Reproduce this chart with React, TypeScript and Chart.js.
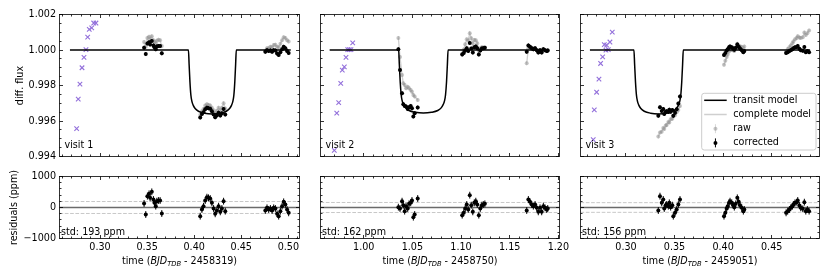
import React, { useEffect, useRef } from 'react';
import { Chart, registerables } from 'chart.js';

Chart.register(...registerables);

const FONT = 'DejaVu Sans';
const FS = 9.6;
const CW = 830;
const CH = 277;
Chart.defaults.font.family = FONT;
Chart.defaults.font.size = FS;
Chart.defaults.color = '#000';

// ---------------- data ----------------
const visitNames = ['visit 1', 'visit 2', 'visit 3'];
const bjdOffsets = ['2458319', '2458750', '2459051'];
const residualStd = [193, 162, 156];
const fluxTicks = [0.994, 0.996, 0.998, 1.0, 1.002];
const residTicks = [-1000, 0, 1000];
const xTicksVisit1 = [0.3, 0.35, 0.4, 0.45, 0.5];
const xTicksVisit2 = [1.0, 1.05, 1.1, 1.15, 1.2];
const xTicksVisit3 = [0.3, 0.35, 0.4, 0.45];
const xLimits = [[0.257, 0.5118], [0.9556, 1.2012], [0.2532, 0.4992]];
const legendLabels = ['transit model', 'complete model', 'raw', 'corrected'];
const fluxErr = 110e-6;
const residErr = 110;

// visit 1
const v1ExclT = [0.2752, 0.2769, 0.2787, 0.2809, 0.283, 0.2851, 0.2869, 0.2886, 0.2912, 0.2933, 0.2957];
const v1ExclF = [0.99557, 0.99723, 0.99808, 0.999, 0.99958, 1.00002, 1.00073, 1.00116, 1.00125, 1.00152, 1.00152];
const v1ModelT = [0.2681, 0.3939, 0.3946, 0.3955, 0.3965, 0.3975, 0.399, 0.401, 0.4045, 0.411, 0.4193, 0.4276, 0.4341, 0.4376, 0.4396, 0.4411, 0.4421, 0.4431, 0.444, 0.4447, 0.5025];
const v1ModelF = [1.0, 1.0, 0.9992, 0.9982, 0.99745, 0.99712, 0.99688, 0.9967, 0.99655, 0.99644, 0.9964, 0.99644, 0.99655, 0.9967, 0.99688, 0.99712, 0.99745, 0.9982, 0.9992, 1.0, 1.0];
const v1Time = [
  0.3468, 0.3486, 0.3503, 0.3521, 0.3532, 0.355, 0.3567, 0.3578, 0.3592, 0.3603, 0.362, 0.3638, 0.3656,
  0.4064, 0.4082, 0.4099, 0.4117, 0.4135, 0.4152, 0.417, 0.4188, 0.4206, 0.4223, 0.4241, 0.4259, 0.4277, 0.4294, 0.4312, 0.433,
  0.4755, 0.4773, 0.4791, 0.4809, 0.4827, 0.4844, 0.4862, 0.488, 0.4897, 0.4915, 0.4933, 0.495, 0.4968, 0.4986, 0.5003,
];
const v1Corr = [
  1.00013, 0.99977, 1.00037, 1.00044, 1.00031, 1.00051, 1.00026, 1.00015, 1.00004, 1.0002, 1.00023, 1.00023, 0.99981,
  0.9962, 0.9964, 0.99649, 0.99666, 0.99675, 0.99672, 0.99669, 0.99655, 0.99637, 0.99621, 0.99632, 0.99647, 0.99631, 0.99643, 0.99667, 0.99637,
  0.9999, 0.99999, 0.99994, 0.99997, 0.9999, 0.99999, 0.99997, 0.9998, 0.99972, 0.99988, 1.00004, 1.00018, 1.0001, 0.99994, 0.99983,
];
const v1Raw = [
  1.00045, 1.00018, 1.00068, 1.00075, 1.00062, 1.00078, 1.00055, 1.00046, 1.00038, 1.00052, 1.00058, 1.00055, 1.00022,
  0.99635, 0.99655, 0.99668, 0.99688, 0.99695, 0.9969, 0.99688, 0.99675, 0.9966, 0.99645, 0.99658, 0.99675, 0.9966, 0.99675, 0.997, 0.9967,
  0.99995, 1.0001, 1.0001, 1.00018, 1.00015, 1.00028, 1.0003, 1.00018, 1.00015, 1.00035, 1.00055, 1.00072, 1.00068, 1.00055, 1.00048,
];
const v1Resid = [
  129, -226, 366, 441, 312, 505, 258, 151, 43, 204, 226, 226, -194,
  -280, -65, 43, 226, 333, 312, 290, 151, -32, -204, -97, 43, -140, -32, 204, -118,
  -97, -11, -65, -32, -97, -11, -32, -204, -280, -118, 43, 183, 97, -65, -172,
];

// visit 2
const v2ExclT = [0.9698, 0.9723, 0.9743, 0.9764, 0.978, 0.9801, 0.9818, 0.9836, 0.9852, 0.9869, 0.9887];
const v2ExclF = [0.99434, 0.99644, 0.99704, 0.99812, 0.99887, 0.99905, 0.99958, 1.00002, 1.00002, 1.00002, 1.0004];
const v2ModelT = [0.965, 1.0359, 1.0366, 1.0375, 1.0385, 1.0395, 1.041, 1.043, 1.0465, 1.053, 1.0613, 1.0696, 1.0761, 1.0796, 1.0816, 1.0831, 1.0841, 1.0851, 1.086, 1.0867, 1.1895];
const v2ModelF = [1.0, 1.0, 0.9992, 0.9982, 0.99748, 0.99715, 0.99692, 0.99674, 0.99659, 0.99649, 0.99645, 0.99649, 0.99659, 0.99674, 0.99692, 0.99715, 0.99748, 0.9982, 0.9992, 1.0, 1.0];
const v2Time = [
  1.0356, 1.0373, 1.0394, 1.0407, 1.0421, 1.0435, 1.0452, 1.0466, 1.0483, 1.0496, 1.051, 1.0524, 1.0555,
  1.1012, 1.1028, 1.1043, 1.1059, 1.1074, 1.109, 1.1105, 1.1121, 1.1136, 1.1152, 1.1167, 1.1183, 1.1198, 1.1214, 1.1229, 1.1245,
  1.1675, 1.1692, 1.1709, 1.1727, 1.1743, 1.1761, 1.1778, 1.1794, 1.1812, 1.1829, 1.1846, 1.1863, 1.1881, 1.1891,
];
const v2Corr = [
  1.00004, 0.99887, 0.99756, 0.99695, 0.99685, 0.99682, 0.99667, 0.99678, 0.99685, 0.99672, 0.99626, 0.99644, 0.99676,
  0.99975, 0.99983, 0.99997, 1.0001, 0.99994, 1.0004, 1.00008, 0.99986, 1.00015, 1.0002, 1.0001, 0.99975, 0.99997, 1.00008, 1.0001, 1.00012,
  0.9999, 1.00026, 1.00018, 1.0001, 1.00004, 1.0001, 0.99999, 0.99986, 0.99999, 0.99986, 1.00004, 0.99999, 0.99994, 0.99997,
];
const v2Raw = [
  1.00068, 0.99961, 0.99859, 0.99812, 0.99803, 0.99784, 0.99793, 0.99784, 0.99775, 0.99765, 0.99747, 0.99738, 0.99719,
  0.9998, 1.00003, 1.00032, 1.0006, 1.00054, 1.00095, 1.00066, 1.00036, 1.00057, 1.00055, 1.00038, 0.99995, 1.0001, 1.00016, 1.00014, 1.00014,
  0.99925, 1.0001, 1.00015, 1.00012, 1.00005, 1.0001, 0.99998, 0.9999, 1.0, 0.9999, 1.00005, 0.99998, 0.99995, 0.99998,
];
const v2Resid = [
  11, -32, 204, 75, -118, 43, -32, 118, 151, 226, -312, -226, 290,
  -247, -172, -32, 97, -65, 398, 75, -140, 151, 204, 97, -247, -32, 75, 97, 118,
  -97, 258, 183, 97, 43, 97, -11, -140, -11, -140, 43, -11, -65, -32,
];

// visit 3
const v3ExclT = [0.2663, 0.2674, 0.2698, 0.2722, 0.2739, 0.276, 0.2777, 0.2794, 0.2801, 0.2818, 0.2835, 0.2859];
const v3ExclF = [0.99495, 0.99663, 0.99762, 0.99836, 0.99924, 0.99961, 1.0003, 0.99999, 1.00027, 1.00002, 1.00045, 1.00101];
const v3ModelT = [0.2629, 0.3082, 0.3089, 0.3098, 0.3108, 0.3118, 0.3133, 0.3153, 0.3188, 0.3253, 0.3336, 0.3419, 0.3484, 0.3519, 0.3539, 0.3554, 0.3564, 0.3574, 0.3583, 0.359, 0.4895];
const v3ModelF = [1.0, 1.0, 0.9992, 0.9982, 0.99745, 0.99712, 0.99688, 0.9967, 0.99655, 0.99644, 0.9964, 0.99644, 0.99655, 0.9967, 0.99688, 0.99712, 0.99745, 0.9982, 0.9992, 1.0, 1.0];
const v3Time = [
  0.3333, 0.335, 0.3368, 0.3384, 0.3394, 0.3409, 0.3419, 0.3436, 0.3446, 0.346, 0.3477, 0.3487, 0.3505, 0.3522, 0.3539, 0.3556,
  0.4009, 0.4023, 0.4037, 0.4047, 0.4061, 0.4071, 0.4089, 0.4105, 0.4115, 0.413, 0.4146, 0.416, 0.4174, 0.4192, 0.4208, 0.4218,
  0.4648, 0.4665, 0.4682, 0.4696, 0.4713, 0.4723, 0.474, 0.4758, 0.4768, 0.4785, 0.4799, 0.482, 0.4836, 0.4851, 0.4867, 0.4885,
];
const v3Corr = [
  0.9963, 0.99677, 0.99656, 0.99668, 0.9964, 0.99652, 0.99655, 0.99651, 0.99664, 0.99652, 0.99662, 0.99629, 0.99646, 0.99666, 0.99698, 0.99738,
  0.99972, 0.99983, 0.99997, 1.00004, 1.00015, 1.0002, 1.00015, 1.00008, 1.00001, 1.00012, 1.00031, 1.00018, 1.00008, 0.99999, 0.99988, 0.99994,
  0.99983, 0.99988, 0.99994, 0.99999, 1.00004, 1.0001, 1.00015, 1.00017, 1.00023, 1.00007, 0.99999, 0.99996, 1.00017, 0.99988, 0.99994, 0.99988,
];
const v3Raw = [
  0.99512, 0.99535, 0.9954, 0.9956, 0.99555, 0.99575, 0.99578, 0.99595, 0.99592, 0.9961, 0.99612, 0.99628, 0.99632, 0.9965, 0.99662, 0.99685,
  0.99917, 0.9994, 0.9996, 0.99975, 0.99992, 1.0, 1.0, 0.99998, 0.99995, 1.00012, 1.00035, 1.00025, 1.0002, 1.00018, 1.0001, 1.0002,
  0.9999, 1.00005, 1.00015, 1.00025, 1.00038, 1.00048, 1.0006, 1.00068, 1.00078, 1.0007, 1.00068, 1.00072, 1.00098, 1.00085, 1.00095, 1.0011,
];
const v3Resid = [
  -97, 366, 151, 258, -32, 75, 97, 43, 151, 11, 75, -280, -172, -65, 97, 258,
  -280, -172, -32, 43, 151, 204, 151, 75, 11, 118, 312, 183, 75, -11, -118, -65,
  -172, -118, -65, -11, 43, 97, 151, 172, 226, 65, -11, -43, 172, -118, -65, -118,
];

const visits = [
  { time: v1Time, corr: v1Corr, raw: v1Raw, resid: v1Resid, modelT: v1ModelT, modelF: v1ModelF, exclT: v1ExclT, exclF: v1ExclF, xTicks: xTicksVisit1 },
  { time: v2Time, corr: v2Corr, raw: v2Raw, resid: v2Resid, modelT: v2ModelT, modelF: v2ModelF, exclT: v2ExclT, exclF: v2ExclF, xTicks: xTicksVisit2 },
  { time: v3Time, corr: v3Corr, raw: v3Raw, resid: v3Resid, modelT: v3ModelT, modelF: v3ModelF, exclT: v3ExclT, exclF: v3ExclF, xTicks: xTicksVisit3 },
];

// ---------------- layout / style ----------------
const PANEL_X = [[59.5, 299.5], [320.5, 559.5], [580.5, 819.5]];
const TOP_Y = [14.5, 156.5];
const BOT_Y = [176.5, 238.5];
const PURPLE = '#9370db';
const RAW_COLOR = 'rgba(140,140,140,0.5)';
const RAW_ERR = 'rgba(140,140,140,0.35)';
const CMODEL_COLOR = 'rgba(160,160,160,0.5)';

const pts = (xs: number[], ys: number[]) => xs.map((x, i) => ({ x, y: ys[i] }));
const gapped = (xs: number[], ys: number[], gap: number) => {
  const out: { x: number; y: number | null }[] = [];
  xs.forEach((x, i) => {
    if (i > 0 && x - xs[i - 1] > gap) out.push({ x: (x + xs[i - 1]) / 2, y: null });
    out.push({ x, y: ys[i] });
  });
  return out;
};

const fontStr = (size: number, italic = false) => `${italic ? 'italic ' : ''}${size}px "${FONT}"`;

function minorValues(min: number, max: number, step: number, majors: number[]) {
  const out: number[] = [];
  const k0 = Math.ceil(min / step - 1e-9);
  const k1 = Math.floor(max / step + 1e-9);
  for (let k = k0; k <= k1; k++) {
    const v = k * step;
    if (!majors.some((m) => Math.abs(m - v) < step * 0.01)) out.push(v);
  }
  return out;
}

const panelPlugin = {
  id: 'panel',
  beforeDatasetsDraw(chart: any) {
    const o = chart.options.plugins.panel;
    if (!o || o.std == null) return;
    const { ctx, chartArea: a } = chart;
    const ys = chart.scales.y;
    ctx.save();
    ctx.beginPath();
    ctx.rect(a.left, a.top, a.right - a.left, a.bottom - a.top);
    ctx.clip();
    ctx.strokeStyle = '#c8c8c8';
    ctx.lineWidth = 1;
    ctx.setLineDash([3.7, 1.6]);
    [o.std, -o.std].forEach((v: number) => {
      const p = ys.getPixelForValue(v);
      ctx.beginPath();
      ctx.moveTo(a.left, p);
      ctx.lineTo(a.right, p);
      ctx.stroke();
    });
    ctx.setLineDash([]);
    ctx.strokeStyle = '#6b6b6b';
    ctx.lineWidth = 1.5;
    const p0 = ys.getPixelForValue(0);
    ctx.beginPath();
    ctx.moveTo(a.left, p0);
    ctx.lineTo(a.right, p0);
    ctx.stroke();
    ctx.restore();
  },
  beforeDatasetDraw(chart: any, args: any) {
    const ds = chart.data.datasets[args.index];
    if (!ds.errY) return;
    const { ctx, chartArea: a } = chart;
    const ys = chart.scales.y;
    ctx.save();
    ctx.beginPath();
    ctx.rect(a.left, a.top, a.right - a.left, a.bottom - a.top);
    ctx.clip();
    ctx.strokeStyle = ds.errColor;
    ctx.lineWidth = 1;
    args.meta.data.forEach((el: any, i: number) => {
      const d = ds.data[i];
      if (!d || d.y == null) return;
      const y1 = ys.getPixelForValue(d.y + ds.errY);
      const y2 = ys.getPixelForValue(d.y - ds.errY);
      ctx.beginPath();
      ctx.moveTo(el.x, y1);
      ctx.lineTo(el.x, y2);
      ctx.stroke();
    });
    ctx.restore();
  },
  afterDraw(chart: any) {
    const o = chart.options.plugins.panel;
    if (!o) return;
    const { ctx, chartArea: a } = chart;
    const xs = chart.scales.x;
    const ys = chart.scales.y;
    ctx.save();
    ctx.strokeStyle = '#000';
    ctx.lineWidth = 0.8;
    const seg = (x1: number, y1: number, x2: number, y2: number) => {
      ctx.beginPath();
      ctx.moveTo(x1, y1);
      ctx.lineTo(x2, y2);
      ctx.stroke();
    };
    const snap = (p: number) => Math.round(p - 0.5) + 0.5;
    const xt = (vals: number[], len: number) =>
      vals.forEach((v) => {
        const p = xs.getPixelForValue(v);
        if (p < a.left - 0.2 || p > a.right + 0.2) return;
        const q = snap(p);
        seg(q, a.bottom, q, a.bottom - len);
        seg(q, a.top, q, a.top + len);
      });
    const yt = (vals: number[], len: number) =>
      vals.forEach((v) => {
        const p = ys.getPixelForValue(v);
        if (p < a.top - 0.2 || p > a.bottom + 0.2) return;
        const q = snap(p);
        seg(a.left, q, a.left + len, q);
        seg(a.right, q, a.right - len, q);
      });
    xt(o.xMajor, 3.5);
    xt(minorValues(xs.min, xs.max, o.xMinor, o.xMajor), 2);
    yt(o.yMajor, 3.5);
    yt(minorValues(ys.min, ys.max, o.yMinor, o.yMajor), 2);
    ctx.strokeRect(a.left, a.top, a.right - a.left, a.bottom - a.top);

    ctx.fillStyle = '#000';
    ctx.textAlign = 'left';
    ctx.textBaseline = 'alphabetic';
    ctx.font = fontStr(FS);
    if (o.visitLabel) ctx.fillText(o.visitLabel, a.left + 5, a.bottom - 8.7);
    if (o.std != null) ctx.fillText(`std: ${o.std} ppm`, a.left + 1.5, a.bottom - 4);

    if (o.xTitle) {
      const parts: any[] = [
        { s: 'time (', f: fontStr(FS), dy: 0 },
        { s: 'BJD', f: fontStr(FS, true), dy: 0 },
        { s: 'TDB', f: fontStr(FS * 0.7, true), dy: 2 },
        { s: ' - ' + o.xTitle + ')', f: fontStr(FS), dy: 0 },
      ];
      let total = 0;
      parts.forEach((p) => {
        ctx.font = p.f;
        p.w = ctx.measureText(p.s).width;
        total += p.w;
      });
      let x = (a.left + a.right) / 2 - total / 2;
      parts.forEach((p) => {
        ctx.font = p.f;
        ctx.fillText(p.s, x, 264 + p.dy);
        x += p.w;
      });
    }

    if (o.legend) {
      const w = 114.3;
      const h = 56.7;
      const L = a.right - 3.5 - w;
      const T = a.bottom - 6.5 - h;
      const r = 2.5;
      ctx.beginPath();
      ctx.moveTo(L + r, T);
      ctx.arcTo(L + w, T, L + w, T + h, r);
      ctx.arcTo(L + w, T + h, L, T + h, r);
      ctx.arcTo(L, T + h, L, T, r);
      ctx.arcTo(L, T, L + w, T, r);
      ctx.closePath();
      ctx.fillStyle = 'rgba(255,255,255,0.8)';
      ctx.fill();
      ctx.strokeStyle = '#cccccc';
      ctx.lineWidth = 1;
      ctx.stroke();
      const hx0 = L + 2.5;
      const hx1 = L + 25;
      const hm = (hx0 + hx1) / 2;
      const tx = L + 31.6;
      legendLabels.forEach((lab, i) => {
        const cy = T + 7 + i * 14.2;
        if (i === 0 || i === 1) {
          ctx.strokeStyle = i === 0 ? '#000' : CMODEL_COLOR;
          ctx.lineWidth = 1.5;
          seg(hx0, cy, hx1, cy);
        } else {
          const dark = i === 3;
          ctx.strokeStyle = dark ? '#000' : RAW_ERR;
          ctx.lineWidth = 1;
          seg(hm, cy - 4.5, hm, cy + 4.5);
          ctx.fillStyle = dark ? '#000' : RAW_COLOR;
          ctx.beginPath();
          ctx.arc(hm, cy, 2, 0, Math.PI * 2);
          ctx.fill();
        }
        ctx.fillStyle = '#000';
        ctx.font = fontStr(FS);
        ctx.textBaseline = 'middle';
        ctx.fillText(lab, tx, cy);
      });
    }
    ctx.restore();
  },
};

function baseScale(extra: any) {
  return {
    type: 'linear',
    grid: { display: false, drawTicks: false },
    border: { display: false },
    ...extra,
  };
}

function topConfig(i: number) {
  const v = visits[i];
  const [pl, pr] = PANEL_X[i];
  const showY = i === 0;
  const yW = showY ? 50 : 0;
  return {
    type: 'scatter',
    data: {
      datasets: [
        { label: 'corrected', data: pts(v.time, v.corr), order: 0, pointRadius: 2, pointBackgroundColor: '#000', pointBorderWidth: 0, errY: fluxErr, errColor: '#000' },
        { label: 'transit model', data: pts(v.modelT, v.modelF), order: 1, showLine: true, pointRadius: 0, borderColor: '#000', borderWidth: 1.5, cubicInterpolationMode: 'monotone' },
        { label: 'complete model', data: gapped(v.time, v.raw, 0.02), order: 2, showLine: true, pointRadius: 0, borderColor: CMODEL_COLOR, borderWidth: 1.3, spanGaps: false },
        { label: 'raw', data: pts(v.time, v.raw), order: 3, pointRadius: 2, pointBackgroundColor: RAW_COLOR, pointBorderWidth: 0, errY: fluxErr, errColor: RAW_ERR },
        { label: 'excluded', data: pts(v.exclT, v.exclF), order: 4, pointStyle: 'crossRot', pointRadius: 3.2, pointBorderColor: PURPLE, pointBackgroundColor: PURPLE, pointBorderWidth: 1.1 },
      ],
    },
    options: {
      responsive: false,
      animation: false,
      devicePixelRatio: 1,
      events: [],
      layout: { padding: { left: pl - yW, right: CW - pr, top: TOP_Y[0], bottom: CH - TOP_Y[1] } },
      plugins: {
        legend: { display: false },
        tooltip: { enabled: false },
        panel: { xMajor: v.xTicks, xMinor: 0.01, yMajor: fluxTicks, yMinor: 0.0005, visitLabel: visitNames[i], legend: i === 2 },
      },
      scales: {
        x: baseScale({ min: xLimits[i][0], max: xLimits[i][1], display: false, afterFit: (s: any) => { s.height = 0; } }),
        y: baseScale({
          min: 0.994,
          max: 1.002,
          display: showY,
          afterFit: (s: any) => { s.width = yW; },
          afterBuildTicks: (s: any) => { s.ticks = fluxTicks.map((value) => ({ value })); },
          ticks: { padding: 3.5, color: '#000', font: { family: FONT, size: FS }, callback: (val: any) => Number(val).toFixed(3) },
          title: { display: showY, text: 'diff. flux', color: '#000', font: { family: FONT, size: FS }, padding: { top: 5, bottom: 0 } },
        }),
      },
    },
    plugins: [panelPlugin],
  };
}

function bottomConfig(i: number) {
  const v = visits[i];
  const [pl, pr] = PANEL_X[i];
  const showY = i === 0;
  const yW = showY ? 52 : 0;
  const xH = CH - BOT_Y[1];
  return {
    type: 'scatter',
    data: {
      datasets: [
        { label: 'residuals', data: pts(v.time, v.resid), order: 0, pointRadius: 2, pointBackgroundColor: '#000', pointBorderWidth: 0, errY: residErr, errColor: '#000' },
      ],
    },
    options: {
      responsive: false,
      animation: false,
      devicePixelRatio: 1,
      events: [],
      layout: { padding: { left: pl - yW, right: CW - pr, top: BOT_Y[0], bottom: 0 } },
      plugins: {
        legend: { display: false },
        tooltip: { enabled: false },
        panel: { xMajor: v.xTicks, xMinor: 0.01, yMajor: residTicks, yMinor: 200, std: residualStd[i], xTitle: bjdOffsets[i] },
      },
      scales: {
        x: baseScale({
          min: xLimits[i][0],
          max: xLimits[i][1],
          afterFit: (s: any) => { s.height = xH; },
          afterBuildTicks: (s: any) => { s.ticks = v.xTicks.map((value) => ({ value })); },
          ticks: { padding: 3, color: '#000', maxRotation: 0, minRotation: 0, autoSkip: false, font: { family: FONT, size: FS }, callback: (val: any) => Number(val).toFixed(2) },
        }),
        y: baseScale({
          min: -1000,
          max: 1000,
          display: showY,
          afterFit: (s: any) => { s.width = yW; },
          afterBuildTicks: (s: any) => { s.ticks = residTicks.map((value) => ({ value })); },
          ticks: {
            padding: 3.5,
            color: '#000',
            font: { family: FONT, size: FS },
            callback: (val: any) => (Number(val) < 0 ? '\u2212' + Math.abs(Number(val)) : String(val)),
          },
          title: { display: showY, text: 'residuals (ppm)', color: '#000', font: { family: FONT, size: FS }, padding: { top: 1, bottom: 0 } },
        }),
      },
    },
    plugins: [panelPlugin],
  };
}

function ChartLayer({ build }: { build: () => any }) {
  const ref = useRef<HTMLCanvasElement>(null);
  useEffect(() => {
    const chart = new Chart(ref.current as HTMLCanvasElement, build());
    return () => chart.destroy();
  }, []);
  return (
    <canvas
      ref={ref}
      width={CW}
      height={CH}
      style={{ position: 'absolute', left: 0, top: 0, width: CW, height: CH }}
    />
  );
}

export default function App() {
  return (
    <div style={{ position: 'fixed', left: 0, top: 0, width: CW, height: CH, background: '#fff', overflow: 'hidden' }}>
      {[0, 1, 2].map((i) => (
        <ChartLayer key={'t' + i} build={() => topConfig(i)} />
      ))}
      {[0, 1, 2].map((i) => (
        <ChartLayer key={'b' + i} build={() => bottomConfig(i)} />
      ))}
    </div>
  );
}
